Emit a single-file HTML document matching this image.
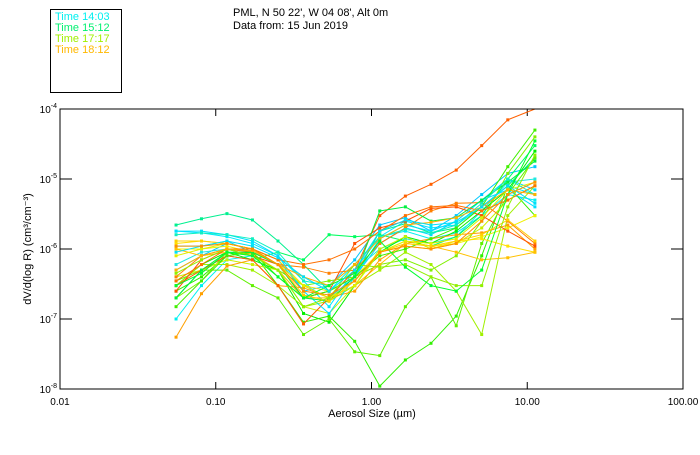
<!DOCTYPE html>
<html><head><meta charset="utf-8"><style>
body{margin:0;background:#fff;}
svg text{font-family:"Liberation Sans",sans-serif;}
</style></head><body>
<svg id="chart" width="700" height="450" viewBox="0 0 700 450" xmlns="http://www.w3.org/2000/svg">
<rect x="50.5" y="9.5" width="71" height="83" fill="none" stroke="#000"/>
<g font-size="11">
<text x="55" y="20" fill="#00f0f0">Time 14:03</text>
<text x="55" y="31" fill="#00f070">Time 15:12</text>
<text x="55" y="42" fill="#a0f000">Time 17:17</text>
<text x="55" y="53" fill="#ffb800">Time 18:12</text>
</g>
<text x="233" y="16" font-size="11">PML, N 50 22', W 04 08', Alt 0m</text>
<text x="233" y="29" font-size="11">Data from: 15 Jun 2019</text>
<g id="axes"></g>
<g id="series"></g>
<rect x="60" y="109" width="623" height="280" fill="none" stroke="#000"/>
<text x="372" y="417" font-size="11" text-anchor="middle">Aerosol Size (µm)</text>
<text transform="translate(31,249) rotate(-90)" font-size="11" text-anchor="middle">dV/d(log R) (cm³/cm⁻³)</text>
</svg>
<script>
const sizes=[0.0556,0.081,0.118,0.172,0.251,0.366,0.534,0.78,1.13,1.65,2.41,3.5,5.1,7.5,11.2];
const xTicks=[0.01,0.1,1,10,100];
const xTickLabels=["0.01","0.10","1.00","10.00","100.00"];
const yTickExps=[-4,-5,-6,-7,-8];
const colors=["#00e8ff","#00d8ff","#00f0f0","#00c8ff","#20e8e0","#00f090","#00ff60","#00f000","#30f000","#60f000","#80f000","#a0f000","#c8f000","#f0f000","#ffe000","#ffc000","#ffa000","#ff8000","#ff6000","#ff5000","#00e0ff","#40f000","#00f040","#e0f000","#ffd000","#ff7000","#10f0c0","#90f000","#ffb000","#00ff30","#00e0f8","#ff9000"];
// values in units of 1e-6
const s1=[1.8,1.7,1.5,1.2,0.8,0.35,0.15,0.5,1.5,2.5,2,2.2,4,8,6];
const s2=[1.1,1.1,1.3,0.9,0.6,0.3,0.2,0.4,1.2,2,1.6,2.5,5,10,7];
const s3=[0.1,0.3,0.7,0.8,0.5,0.2,0.25,0.6,1.5,1.8,1.4,1.7,3,6,5];
const s4=[0.5,0.8,1.2,1,0.7,0.25,0.3,0.7,2.2,2.8,1.8,3,6,12,15];
const s5=[0.6,0.9,1.0,0.9,0.6,0.3,0.2,0.5,1,1.4,1.2,1.5,3.5,9,10];
const s6=[2.2,2.7,3.2,2.6,1.3,0.6,0.25,0.4,1.8,2.3,1.7,2,4,8,20];
const s7=[0.2,0.5,0.8,0.7,0.9,0.7,1.6,1.5,1.6,1.3,1.1,1.5,3,10,30];
const s8=[0.3,0.6,0.9,0.7,0.5,0.12,0.09,0.3,0.9,1.5,1.2,1.8,3.5,7,25];
const s9=[0.25,0.4,0.8,0.9,0.3,0.09,0.11,0.048,0.011,0.026,0.045,0.11,0.8,8,3];
const s10=[0.35,0.5,0.5,0.3,0.2,0.06,0.1,0.034,0.03,0.15,0.4,0.08,1.2,6,20];
const s11=[0.2,0.35,0.9,0.8,0.5,0.3,0.35,0.4,0.6,0.7,0.5,0.8,2.5,12,40];
const s12=[0.3,0.6,0.6,0.5,0.3,0.15,0.18,0.3,0.5,0.9,0.6,0.25,0.06,3,8];
const s13=[0.4,0.5,0.7,0.6,0.5,0.15,0.12,0.3,1.0,1.5,1.0,1.2,2,5,8];
const s14=[1.0,1.0,1.1,0.9,0.6,0.3,0.2,0.35,0.9,1.3,1.1,1.2,1.5,2,3];
const s15=[1.2,1.3,1.2,1.0,0.7,0.3,0.25,0.4,0.9,1.1,1.0,1.3,1.4,1.1,0.9];
const s16=[1.0,0.8,0.9,0.85,0.5,0.2,0.2,0.3,0.6,1.2,1.1,0.9,0.7,0.75,0.9];
const s17=[0.055,0.23,0.57,0.7,0.3,0.28,0.2,0.25,0.7,1.2,1.4,1.6,1.7,2.2,1.0];
const s18=[0.4,0.8,1.0,0.9,0.6,0.55,0.45,0.5,1.2,2.0,3.5,4.5,4.6,2.5,1.2];
const s19=[0.3,0.5,0.8,0.7,0.3,0.085,0.2,0.5,3,5.7,8.4,13.4,30,70,110];
const s20=[0.25,0.7,1.0,0.8,0.6,0.2,0.25,1.2,2.0,2.5,3.8,4.0,3.0,1.8,1.1];
const s21=[1.8,1.8,1.6,1.3,0.8,0.25,0.12,0.4,1.4,2.2,1.8,2.5,5,7,4];
const s22=[0.15,0.35,0.8,0.9,0.4,0.2,0.25,0.4,0.8,1.0,1.4,2.0,4,15,50];
const s23=[0.2,0.5,0.9,0.9,0.6,0.2,0.18,0.4,3.5,4,2.5,2.8,5,9,18];
const s24=[0.8,1.0,1.2,1.0,0.6,0.3,0.2,0.3,0.9,1.3,1.2,1.4,2.8,7,9];
const s25=[1.3,1.3,1.2,1.0,0.6,0.22,0.18,0.35,0.9,1.2,1.1,1.3,1.6,2.6,1.3];
const s26=[0.35,0.6,1.0,1.0,0.7,0.6,0.7,1.0,1.8,3.0,4.0,4.2,3.5,5,8];
const s27=[1.6,1.7,1.6,1.4,0.9,0.35,0.3,0.6,1.5,1.9,1.7,2.2,4.5,10,6];
const s28=[0.45,0.7,1.0,0.8,0.5,0.15,0.2,0.6,0.55,0.6,0.4,0.3,0.3,4,22];
const s29=[0.5,0.8,1.0,0.95,0.6,0.4,0.3,0.6,1.4,2.2,2.4,2.8,4,7,6];
const s30=[0.3,0.45,0.9,0.8,0.4,0.2,0.3,0.45,1.3,0.55,0.3,0.25,0.5,6,35];
const s31=[0.9,1.1,1.3,1.1,0.75,0.4,0.25,0.5,1.8,2.6,2.2,2.4,4,8,4.5];
const s32=[1.1,1.1,1.2,1.0,0.6,0.25,0.22,0.35,0.9,1.1,1.0,1.2,2.5,6,9];
const allSeries=[s1,s2,s3,s4,s5,s6,s7,s8,s9,s10,s11,s12,s13,s14,s15,s16,s17,s18,s19,s20,s21,s22,s23,s24,s25,s26,s27,s28,s29,s30,s31,s32];

const X0=60,X1=683,Y0=109,Y1=389;
function xPos(v){return X0+(Math.log10(v)+2)/4*(X1-X0);}
function yPos(v){return Y0+(-4-Math.log10(v))/4*(Y1-Y0);}
const NS="http://www.w3.org/2000/svg";
const axes=document.getElementById('axes');
xTicks.forEach((t,i)=>{
  const x=xPos(t);
  const a=document.createElementNS(NS,'path');
  a.setAttribute('d',`M${x},${Y1}V${Y1-7}M${x},${Y0}V${Y0+7}`);
  a.setAttribute('stroke','#000');
  
  
  axes.appendChild(a);
  const l=document.createElementNS(NS,'text');
  l.setAttribute('x',x);l.setAttribute('y',405);l.setAttribute('font-size','10');l.setAttribute('text-anchor','middle');
  l.textContent=xTickLabels[i];
  
  
  axes.appendChild(l);
});
yTickExps.forEach(e=>{
  const y=yPos(Math.pow(10,e));
  const a=document.createElementNS(NS,'path');
  a.setAttribute('d',`M${X0},${y}H${X0+12}M${X1},${y}H${X1-12}`);
  a.setAttribute('stroke','#000');
  
  
  axes.appendChild(a);
  const l=document.createElementNS(NS,'text');
  l.setAttribute('x',57);l.setAttribute('y',y+4);l.setAttribute('font-size','10');l.setAttribute('text-anchor','end');
  l.innerHTML='10<tspan font-size="7" dy="-5">'+e+'</tspan>';
  
  
  axes.appendChild(l);
});
const g=document.getElementById('series');
allSeries.forEach((s,k)=>{
  const c=colors[k%colors.length];
  const pts=s.map((v,i)=>[xPos(sizes[i]),Math.max(Y0,yPos(v*1e-6))]);
  const p=document.createElementNS(NS,'polyline');
  p.setAttribute('points',pts.map(q=>q[0].toFixed(1)+','+q[1].toFixed(1)).join(' '));
  p.setAttribute('fill','none');p.setAttribute('stroke',c);p.setAttribute('stroke-width','1');
  
  
  g.appendChild(p);
  pts.forEach(q=>{
    if(q[1]<=Y0) return;
    const r=document.createElementNS(NS,'rect');
    r.setAttribute('x',q[0]-1.5);r.setAttribute('y',q[1]-1.5);r.setAttribute('width',3);r.setAttribute('height',3);r.setAttribute('fill',c);
    
    
    g.appendChild(r);
  });
});
</script>
</body></html>
